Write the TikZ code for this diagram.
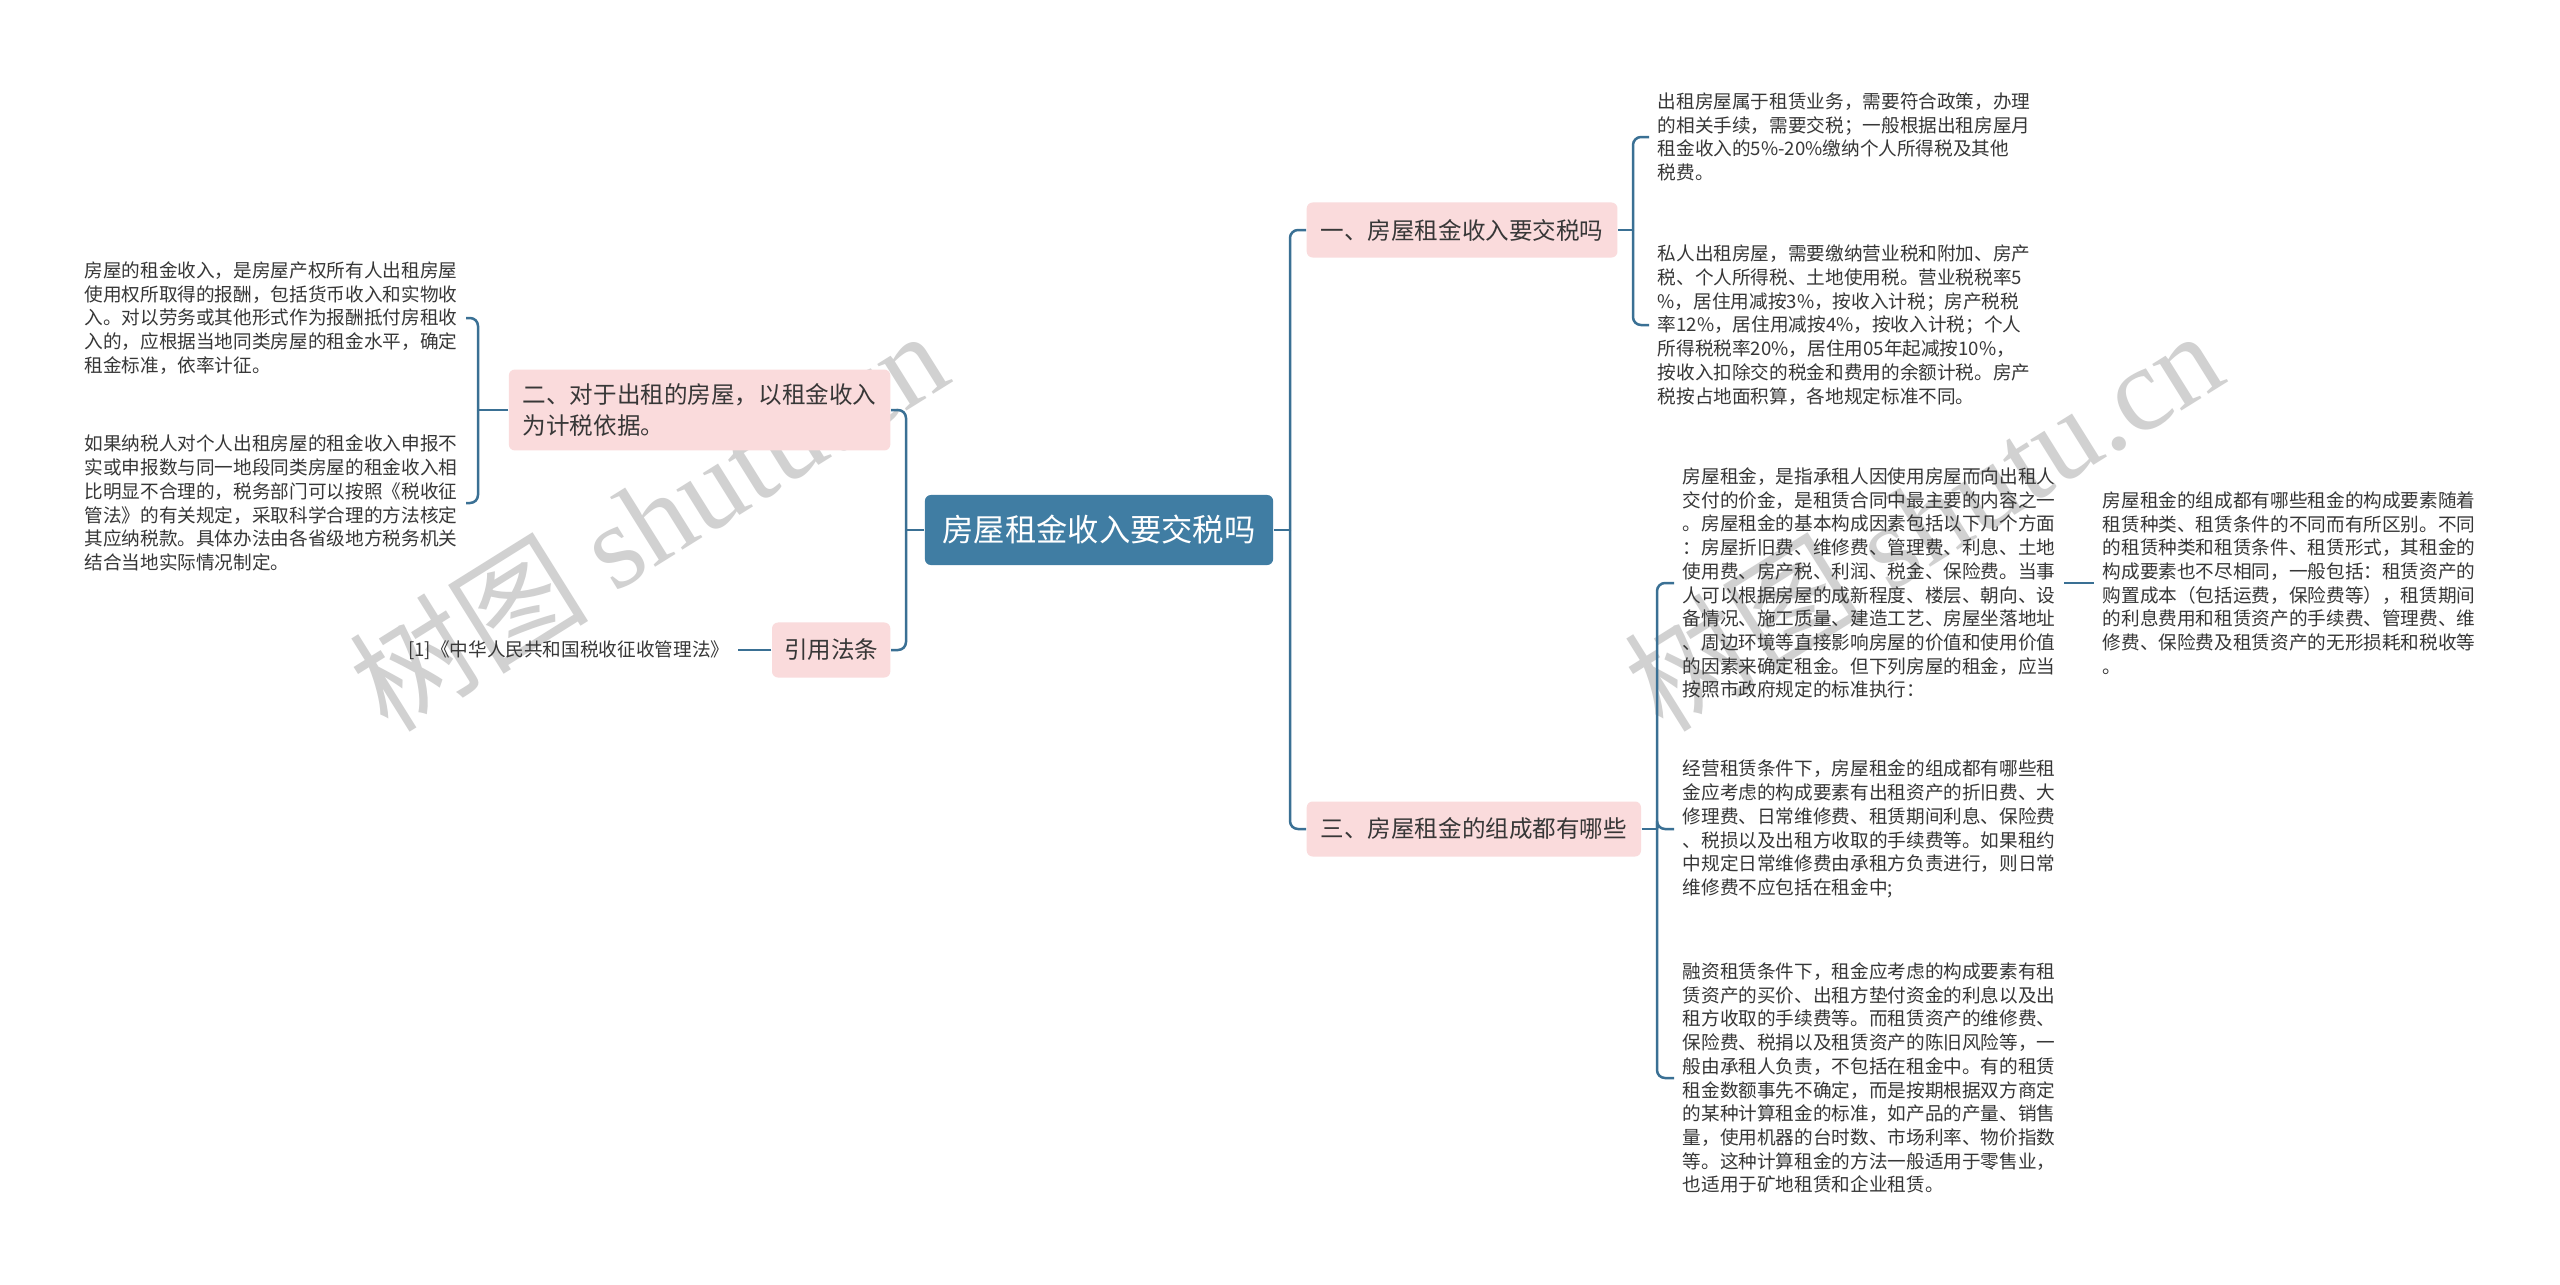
\documentclass[tikz,border=0pt]{standalone}
\usepackage{fontspec}
\setmainfont{Noto Sans CJK SC}
\newfontfamily\wmfont{Liberation Serif}
\usetikzlibrary{positioning}

\definecolor{rootblue}{RGB}{64,125,163}
\definecolor{linkblue}{RGB}{58,112,148}
\definecolor{topicpink}{RGB}{250,219,220}
\definecolor{bodygray}{RGB}{55,55,55}

\newcommand{\bodyfont}{\fontsize{5.3}{6.75}\selectfont}
\newcommand{\topicfont}{\fontsize{6.7}{8.8}\selectfont}
\newcommand{\rootfont}{\fontsize{8.9}{11}\selectfont}

\begin{document}
\begin{tikzpicture}[x=0.01cm, y=-0.01cm,
    root/.style={rectangle, rounded corners=0.06cm, fill=rootblue, text=white, font=\rootfont, minimum width=3.48cm, minimum height=0.7cm, inner sep=0},
    topic/.style={rectangle, rounded corners=0.06cm, fill=topicpink, text=bodygray, font=\topicfont, align=left, inner xsep=0.14cm, minimum height=0.55cm},
    leaf/.style={font=\bodyfont, text=bodygray, align=left, inner xsep=0.08cm, inner ysep=0},
    link/.style={draw=linkblue, line width=0.025cm, rounded corners=0.08cm},
    wmark/.style={text=black!18, rotate=32, font=\fontsize{34}{34}\selectfont}
]
\useasboundingbox[fill=white] (0,0) rectangle (2560,1284);

% Watermarks
\node[wmark] (wmleft) at (648,519) {树图 {\wmfont shutu.cn}};
\node[wmark] (wmright) at (1923,519) {树图 {\wmfont shutu.cn}};

% Root and topics
\node[root] (root) at (1099,530) {房屋租金收入要交税吗};
\node[topic, anchor=west] (tax) at (1306,230) {一、房屋租金收入要交税吗};
\node[topic, anchor=west] (parts) at (1306,829) {三、房屋租金的组成都有哪些};
\node[topic, anchor=east, inner ysep=0.14cm] (basis) at (891,410) {二、对于出租的房屋，以租金收入\\为计税依据。};
\node[topic, anchor=east, inner xsep=0.12cm] (laws) at (891,650) {引用法条};

% Junctions
\coordinate (rj) at (1290,530);
\coordinate (lj) at (906,530);
\coordinate (taxj) at (1633,230);
\coordinate (partj) at (1657,829);
\coordinate (basisj) at (478,410);

% Leaves of topic one
\node[leaf, anchor=west] (taxwhy) at (1649,137) {出租房屋属于租赁业务，需要符合政策，办理\\的相关手续，需要交税；一般根据出租房屋月\\租金收入的5\%-20\%缴纳个人所得税及其他\\税费。};
\node[leaf, anchor=west] (taxrate) at (1649,325) {私人出租房屋，需要缴纳营业税和附加、房产\\税、个人所得税、土地使用税。营业税税率5\\\%，居住用减按3\%，按收入计税；房产税税\\率12\%，居住用减按4\%，按收入计税；个人\\所得税税率20\%，居住用05年起减按10\%，\\按收入扣除交的税金和费用的余额计税。房产\\税按占地面积算，各地规定标准不同。};

% Leaves of topic two
\node[leaf, anchor=east] (basisA) at (466,318) {房屋的租金收入，是房屋产权所有人出租房屋\\使用权所取得的报酬，包括货币收入和实物收\\入。对以劳务或其他形式作为报酬抵付房租收\\入的，应根据当地同类房屋的租金水平，确定\\租金标准，依率计征。};
\node[leaf, anchor=east] (basisB) at (466,503) {如果纳税人对个人出租房屋的租金收入申报不\\实或申报数与同一地段同类房屋的租金收入相\\比明显不合理的，税务部门可以按照《税收征\\管法》的有关规定，采取科学合理的方法核定\\其应纳税款。具体办法由各省级地方税务机关\\结合当地实际情况制定。};
\node[leaf, anchor=east] (lawref) at (738,650) {[1]《中华人民共和国税收征收管理法》};

% Leaves of topic three
\node[leaf, anchor=west] (partA) at (1674,583) {房屋租金，是指承租人因使用房屋而向出租人\\交付的价金，是租赁合同中最主要的内容之一\\。房屋租金的基本构成因素包括以下几个方面\\：房屋折旧费、维修费、管理费、利息、土地\\使用费、房产税、利润、税金、保险费。当事\\人可以根据房屋的成新程度、楼层、朝向、设\\备情况、施工质量、建造工艺、房屋坐落地址\\、周边环境等直接影响房屋的价值和使用价值\\的因素来确定租金。但下列房屋的租金，应当\\按照市政府规定的标准执行：};
\node[leaf, anchor=west] (partB) at (1674,829) {经营租赁条件下，房屋租金的组成都有哪些租\\金应考虑的构成要素有出租资产的折旧费、大\\修理费、日常维修费、租赁期间利息、保险费\\、税损以及出租方收取的手续费等。如果租约\\中规定日常维修费由承租方负责进行，则日常\\维修费不应包括在租金中;};
\node[leaf, anchor=west] (partC) at (1674,1078) {融资租赁条件下，租金应考虑的构成要素有租\\赁资产的买价、出租方垫付资金的利息以及出\\租方收取的手续费等。而租赁资产的维修费、\\保险费、税捐以及租赁资产的陈旧风险等，一\\般由承租人负责，不包括在租金中。有的租赁\\租金数额事先不确定，而是按期根据双方商定\\的某种计算租金的标准，如产品的产量、销售\\量，使用机器的台时数、市场利率、物价指数\\等。这种计算租金的方法一般适用于零售业，\\也适用于矿地租赁和企业租赁。};
\node[leaf, anchor=west] (partD) at (2094,583) {房屋租金的组成都有哪些租金的构成要素随着\\租赁种类、租赁条件的不同而有所区别。不同\\的租赁种类和租赁条件、租赁形式，其租金的\\构成要素也不尽相同，一般包括：租赁资产的\\购置成本（包括运费，保险费等），租赁期间\\的利息费用和租赁资产的手续费、管理费、维\\修费、保险费及租赁资产的无形损耗和税收等\\。};

% Connectors
\draw[link] (root.east) -- (rj);
\foreach \n in {tax, parts}
    \draw[link] (rj) |- (\n.west);
\draw[link] (root.west) -- (lj);
\foreach \n in {basis, laws}
    \draw[link] (lj) |- (\n.east);
\draw[link] (tax.east) -- (taxj);
\foreach \n in {taxwhy, taxrate}
    \draw[link] (taxj) |- (\n.west);
\draw[link] (parts.east) -- (partj);
\foreach \n in {partA, partB, partC}
    \draw[link] (partj) |- (\n.west);
\draw[link] (basis.west) -- (basisj);
\foreach \n in {basisA, basisB}
    \draw[link] (basisj) |- (\n.east);
\draw[link] (laws.west) -- (lawref.east);
\draw[link] (partA.east) -- (partD.west);

\end{tikzpicture}
\end{document}
